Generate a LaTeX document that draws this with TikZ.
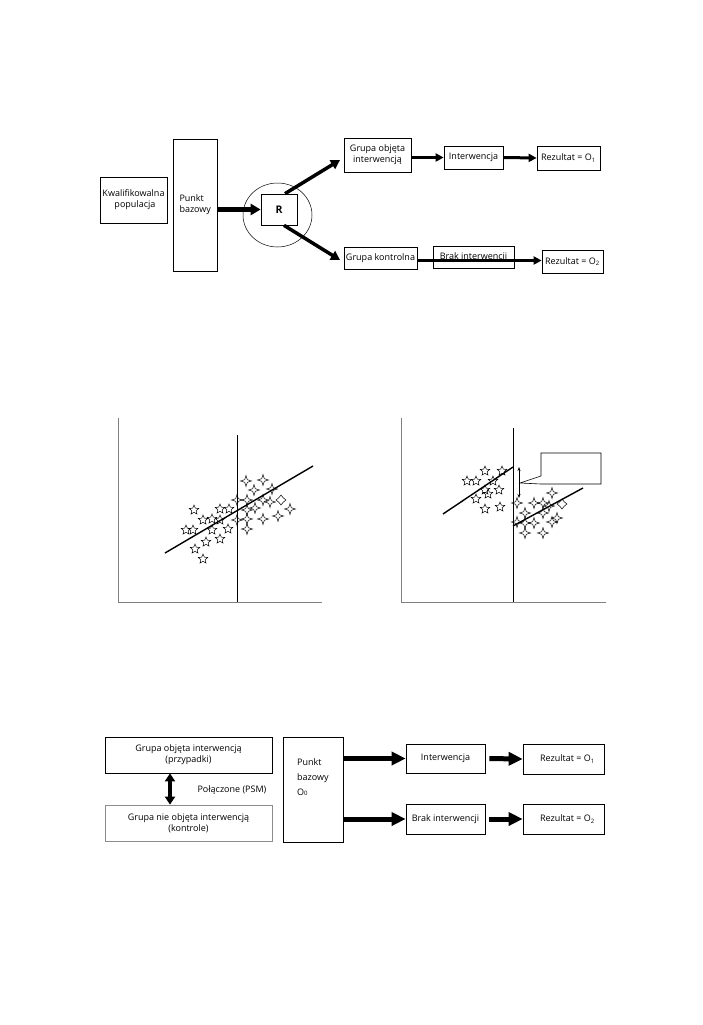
\documentclass[tikz,border=0pt]{standalone}
\usepackage{fontspec}
\setmainfont{Open Sans}
\usetikzlibrary{arrows.meta,shapes.geometric}
\begin{document}
\begin{tikzpicture}[x=1pt,y=-1pt,
  every node/.style={font=\fontsize{9}{11}\selectfont},
  box/.style={draw=black,line width=0.7pt,inner sep=1pt,align=center},
  graybox/.style={draw=black!45,line width=0.7pt,inner sep=1pt,align=center},
  arrA/.style={line width=4.5pt,-{Triangle[length=10pt,width=11pt]}},
  arrB/.style={line width=3.5pt,-{Triangle[length=9pt,width=10pt]}},
  arrE/.style={line width=3pt,-{Triangle[length=8pt,width=8pt]}},
  arrC/.style={line width=5pt,-{Triangle[length=14pt,width=13pt]}},
  arrD/.style={line width=3.5pt,{Triangle[length=8pt,width=10pt]}-{Triangle[length=8pt,width=10pt]}},
  axis/.style={draw=black!50,line width=0.9pt},
  vline/.style={draw=black,line width=1pt},
  reg/.style={draw=black,line width=1.4pt},
  stfive/.style={star,star points=5,star point ratio=2.2,draw,inner sep=0pt,minimum size=10pt,line width=0.5pt},
  stfour/.style={star,star points=4,star point ratio=3,draw,inner sep=0pt,minimum size=11pt,line width=0.5pt},
  stdia/.style={star,star points=4,star point ratio=1.6,draw,inner sep=0pt,minimum size=10pt,line width=0.5pt}
]
\useasboundingbox (0,0) rectangle (702,1025);

% ---------------- top diagram ----------------
\node[box,minimum width=67pt,minimum height=46pt,align=left] (kp) at (133.5,200)
  {Kwalifikowalna\\\hspace*{12pt}populacja};
\node[box,minimum width=44pt,minimum height=132pt,align=left,text width=31pt] (pb) at (195,205)
  {Punkt\\bazowy};
\node[draw=black,line width=0.5pt,ellipse,minimum width=69pt,minimum height=64pt] (ell) at (277.5,215) {};
\node[box,fill=white,minimum width=36pt,minimum height=31pt,font=\fontsize{10.5}{12}\selectfont\bfseries] (R) at (279,209.5) {R};
\node[box,minimum width=67pt,minimum height=34pt] (go) at (377.5,155) {Grupa objęta\\interwencją};
\node[box,minimum width=59pt,minimum height=23pt] (iw) at (473.5,157.5) {Interwencja};
\node[box,minimum width=63pt,minimum height=24pt] (r1) at (568.5,158) {Rezultat = O\textsubscript{1}};
\node[box,minimum width=73pt,minimum height=22pt] (gk) at (380.5,258) {Grupa kontrolna};
\node[box,minimum width=81pt,minimum height=22pt] (bi) at (473.5,257.5) {\raisebox{-1.5pt}[0pt][0pt]{Brak interwencji}};
\node[box,minimum width=61pt,minimum height=23pt] (r2) at (572.5,261.5) {Rezultat = O\textsubscript{2}};
\coordinate (t1) at (340,160);
\coordinate (t2) at (340,260);

\draw[arrA] (R.west -| pb.east) -- (R.west);
\draw[arrB] ([xshift=6pt]R.north) -- (t1);
\draw[arrB] ([xshift=5pt]R.south) -- (t2);
\draw[arrE] (iw.west -| go.east) -- (iw.west);
\draw[arrE] (iw.east) -- (r1.west);
\draw[arrE] ([yshift=1pt]r2.west -| gk.east) -- ([yshift=1pt]r2.west);

% ---------------- left plot ----------------
\foreach \p [count=\i] in {(194,510),(203,520),(212,519),(220,509),(229,509),(220,520),(186,530),(193,530),(212,530),(228,529),(206,542),(220,539),(195,549),(203,559)}
  \node[stfive] (la\i) at \p {};
\foreach \p [count=\i] in {(246,481),(263,480),(254,490),(272,489),(237,500),(247,500),(263,500),(270,502),(255,508),(247,510),(290,509),(237,520),(247,519),(263,519),(278,516),(247,529)}
  \node[stfour] (lb\i) at \p {};
\node[stdia] (ld) at (281,500) {};
\draw[axis] (118,418) -- (118,602) -- (322,602);
\draw[vline] (237,435) -- (237,602);
\draw[reg] (165,553) -- (313,466);

% ---------------- right plot ----------------
\foreach \p [count=\i] in {(485,471),(502,471),(467,481),(476,481),(493,481),(485,490),(488,494),(499,490),(476,499),(485,509),(500,507)}
  \node[stfive] (ra\i) at \p {};
\foreach \p [count=\i] in {(552,493),(517,503),(534,503),(543,503),(549,506),(525,513),(543,513),(517,522),(525,523),(534,523),(552,522),(557,518),(525,533),(543,533)}
  \node[stfour] (rb\i) at \p {};
\node[stdia] (rd) at (562,504) {};
\draw[axis] (401,418) -- (401,602) -- (606,602);
\draw[vline] (513,428) -- (513,602);
\draw[reg] (443,514) -- (513,467);
\draw[reg] (513,526) -- (583,488);
\coordinate (da) at (519,467);
\coordinate (db) at (519,498);
\draw[line width=0.6pt,{Stealth[length=4pt,width=3pt]}-{Stealth[length=4pt,width=3pt]}] (da) -- (db);
\draw[line width=0.6pt,fill=white] (601,453) -- (541,453) -- (541,476) -- (520,483) -- (541,484) -- (601,484) -- cycle;

% ---------------- bottom diagram ----------------
\node[box,minimum width=167pt,minimum height=36pt] (gb1) at (188.5,755) {Grupa objęta interwencją\\(przypadki)};
\node[graybox,minimum width=167pt,minimum height=36pt] (gb2) at (188.5,823) {Grupa nie objęta interwencją\\(kontrole)};
\draw[arrD] ([xshift=-18.5pt]gb1.south) -- ([xshift=-18.5pt]gb2.north);
\node[anchor=west] (psm) at (194,790) {Połączone (PSM)};
\node[box,minimum width=60pt,minimum height=105pt] (pb2) at (313,789.5) {};
\node[anchor=west,align=left,inner sep=0pt,font=\fontsize{9}{15}\selectfont] (pb2t) at (297,777) {Punkt\\bazowy\\O{\fontsize{6}{7}\selectfont 0}};
\node[box,minimum width=79pt,minimum height=29pt] (iw2) at (445.5,758.5) {Interwencja};
\node[box,minimum width=81pt,minimum height=30pt] (r3) at (563.5,759) {\hspace*{8pt}Rezultat = O\textsubscript{1}};
\node[box,minimum width=79pt,minimum height=30pt] (bi2) at (445.5,819) {Brak interwencji};
\node[box,minimum width=81pt,minimum height=30pt] (r4) at (563.5,819) {\hspace*{8pt}Rezultat = O\textsubscript{2}};
\draw[arrC] (iw2.west -| pb2.east) -- (iw2.west);
\draw[arrC] (bi2.west -| pb2.east) -- (bi2.west);
\draw[arrC,shorten <=4pt] (iw2.east) -- (r3.west);
\draw[arrC,shorten <=4pt] (bi2.east) -- (r4.west);
\end{tikzpicture}
\end{document}
